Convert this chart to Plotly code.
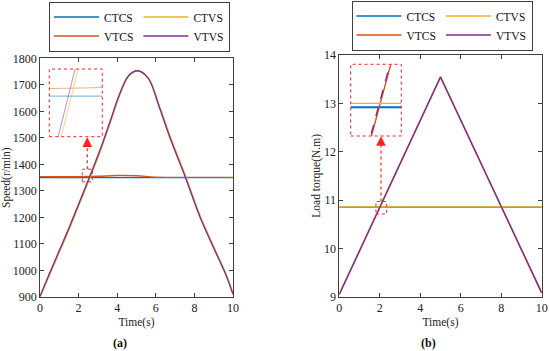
import plotly.graph_objects as go

# ---------------- data ----------------
t_speed = [0, 0.5, 1.0, 1.5, 2.0, 2.55, 3.1, 3.6, 4.15, 4.6, 5.05, 5.6, 6.2, 6.75, 7.55, 8.3, 9.0, 9.65, 10]
speed_vtvs = [903, 990, 1075, 1160, 1250, 1350, 1452, 1555, 1670, 1735, 1753, 1725, 1612, 1498, 1348, 1200, 1085, 980, 910]
speed_ctvs = [900, 985, 1069, 1153, 1243, 1343, 1445, 1549, 1665, 1733, 1752, 1727, 1617, 1504, 1354, 1205, 1090, 984, 912]

t_flat = [0, 2, 3, 4, 5, 6, 8, 10]
speed_ctcs = [1350, 1350, 1350, 1350, 1350, 1350, 1350, 1350]
speed_vtcs = [1354, 1354, 1355, 1358, 1357, 1352, 1351, 1351]

t_torque = [0, 5, 10]
torque_vtvs = [9.05, 13.55, 9.08]
torque_vtcs = [9.05, 13.54, 9.08]
t_const = [0, 10]
torque_ctcs = [10.85, 10.85]
torque_ctvs = [10.855, 10.855]

names = ["CTCS", "CTVS", "VTCS", "VTVS"]
colors = {"CTCS": "#0072BD", "CTVS": "#EDB120", "VTCS": "#D95319", "VTVS": "#7E2F8E"}

speed_xticks = [0, 2, 4, 6, 8, 10]
speed_yticks = [900, 1000, 1100, 1200, 1300, 1400, 1500, 1600, 1700, 1800]
torque_yticks = [9, 10, 11, 12, 13, 14]

FONT = "Liberation Serif"
W, H = 550, 351

fig = go.Figure()

# ---- left main panel ----
left_series = [
    ("CTCS", t_flat, speed_ctcs, "g1"),
    ("VTCS", t_flat, speed_vtcs, "g1"),
    ("CTVS", t_speed, speed_ctvs, "g2"),
    ("VTVS", t_speed, speed_vtvs, "g2"),
]
for name, xs, ys, grp in left_series:
    fig.add_trace(go.Scatter(x=xs, y=ys, mode="lines", name=name, legendgroup=grp,
                             line=dict(color=colors[name], width=1.4, shape="spline"),
                             xaxis="x", yaxis="y", legend="legend"))

# ---- right main panel ----
right_series = [
    ("CTCS", t_const, torque_ctcs, "h1"),
    ("VTCS", t_torque, torque_vtcs, "h1"),
    ("CTVS", t_const, torque_ctvs, "h2"),
    ("VTVS", t_torque, torque_vtvs, "h2"),
]
for name, xs, ys, grp in right_series:
    fig.add_trace(go.Scatter(x=xs, y=ys, mode="lines", name=name, legendgroup=grp,
                             line=dict(color=colors[name], width=1.5 if name == "CTVS" else 1.4),
                             xaxis="x2", yaxis="y2", legend="legend2"))

# ---- left inset (zoom) ----
for name, xs, ys, grp in left_series:
    fig.add_trace(go.Scatter(x=xs, y=ys, mode="lines", showlegend=False, opacity=0.45,
                             line=dict(color=colors[name], width=1.2, shape="spline"),
                             xaxis="x3", yaxis="y3", hoverinfo="skip"))

# ---- right inset (zoom) ----
for name, xs, ys, grp in right_series:
    fig.add_trace(go.Scatter(x=xs, y=ys, mode="lines", showlegend=False,
                             line=dict(color=colors[name], width=2 if name == "CTCS" else 1.4,
                                       dash="dash" if name == "VTVS" else "solid"),
                             xaxis="x4", yaxis="y4", hoverinfo="skip"))

axis_common = dict(showline=True, linecolor="#404040", linewidth=0.8, mirror="ticks",
                   ticks="inside", ticklen=4, tickcolor="#404040", showgrid=False,
                   zeroline=False, automargin=False,
                   tickfont=dict(family=FONT, size=12, color="#222"),
                   title_font=dict(family=FONT, size=11.5, color="#222"))

xl0, xl1 = 40 / W, 233 / W
xr0, xr1 = 339.3 / W, 541.7 / W
yl0, yl1 = 1 - 297 / H, 1 - 58.3 / H
yr0, yr1 = 1 - 296.7 / H, 1 - 55 / H

legend_common = dict(orientation="h", xanchor="center", yanchor="top",
                     bordercolor="#404040", borderwidth=1, bgcolor="white", tracegroupgap=4,
                     itemwidth=45, font=dict(family=FONT, size=11.5, color="#111"),
                     traceorder="grouped")

fig.update_layout(
    width=W, height=H, margin=dict(l=0, r=0, t=0, b=0, autoexpand=False),
    paper_bgcolor="white", plot_bgcolor="white",
    xaxis=dict(domain=[xl0, xl1], range=[0, 10], tickvals=speed_xticks,
               title=dict(text="Time(s)", standoff=3), anchor="y", **axis_common),
    yaxis=dict(domain=[yl0, yl1], range=[900, 1800], tickvals=speed_yticks,
               title=dict(text="Speed(r/min)", standoff=0), anchor="x", **axis_common),
    xaxis2=dict(domain=[xr0, xr1], range=[0, 10], tickvals=speed_xticks,
                title=dict(text="Time(s)", standoff=3), anchor="y2", **axis_common),
    yaxis2=dict(domain=[yr0, yr1], range=[9, 14], tickvals=torque_yticks,
                title=dict(text="Load torque(N.m)", standoff=0), anchor="x2", **axis_common),
    xaxis3=dict(domain=[49.3 / W, 102.3 / W], range=[2.316, 2.968], visible=False, anchor="y3"),
    yaxis3=dict(domain=[1 - 136.7 / H, 1 - 69 / H], range=[1327.2, 1365.2], visible=False, anchor="x3"),
    xaxis4=dict(domain=[350.7 / W, 401.3 / W], range=[1.857, 2.119], visible=False, anchor="y4"),
    yaxis4=dict(domain=[1 - 136 / H, 1 - 64.3 / H], range=[10.814, 10.904], visible=False, anchor="x4"),
    legend=dict(x=(49 + 230) / 2 / W, y=1 - 1.5 / H, **legend_common),
    legend2=dict(x=(352 + 532) / 2 / W, y=1 - 0.5 / H, **legend_common),
    showlegend=True,
)

red = "#FF2020"
# inset borders
for ax in ("x3", "x4"):
    yax = "y" + ax[1:]
    fig.add_shape(type="rect", xref=ax + " domain", yref=yax + " domain", x0=0, x1=1, y0=0, y1=1,
                  line=dict(color=red, width=1, dash="dot"))
# small boxes on main plots
fig.add_shape(type="rect", xref="x", yref="y", x0=2.19, x1=2.71, y0=1334, y1=1382,
              line=dict(color=red, width=1, dash="dot"))
fig.add_shape(type="rect", xref="x2", yref="y2", x0=1.81, x1=2.34, y0=10.71, y1=10.97,
              line=dict(color=red, width=1, dash="dot"))
# dotted connector lines
fig.add_shape(type="line", xref="x", yref="y", x0=2.45, x1=2.45, y0=1382, y1=1485,
              line=dict(color=red, width=1.2, dash="dot"))
fig.add_shape(type="line", xref="x2", yref="y2", x0=2.06, x1=2.06, y0=10.97, y1=12.2,
              line=dict(color=red, width=1.2, dash="dot"))
# arrowheads
fig.add_annotation(x=2.45, y=1502, ax=2.45, ay=1480, xref="x", yref="y", axref="x", ayref="y",
                   text="", showarrow=True, arrowhead=2, arrowsize=1.6, arrowwidth=1.2, arrowcolor=red)
fig.add_annotation(x=2.06, y=12.32, ax=2.06, ay=12.18, xref="x2", yref="y2", axref="x2", ayref="y2",
                   text="", showarrow=True, arrowhead=2, arrowsize=1.6, arrowwidth=1.2, arrowcolor=red)

# subplot labels
fig.add_annotation(x=120 / W, y=1 - 343 / H, xref="paper", yref="paper", text="<b>(a)</b>",
                   xanchor="center", yanchor="middle",
                   showarrow=False, font=dict(family=FONT, size=12, color="#111"))
fig.add_annotation(x=428 / W, y=1 - 343 / H, xref="paper", yref="paper", text="<b>(b)</b>",
                   xanchor="center", yanchor="middle",
                   showarrow=False, font=dict(family=FONT, size=12, color="#111"))

fig.write_html("out.html", config={"displayModeBar": False},
               post_script="document.body.style.margin='0';")
